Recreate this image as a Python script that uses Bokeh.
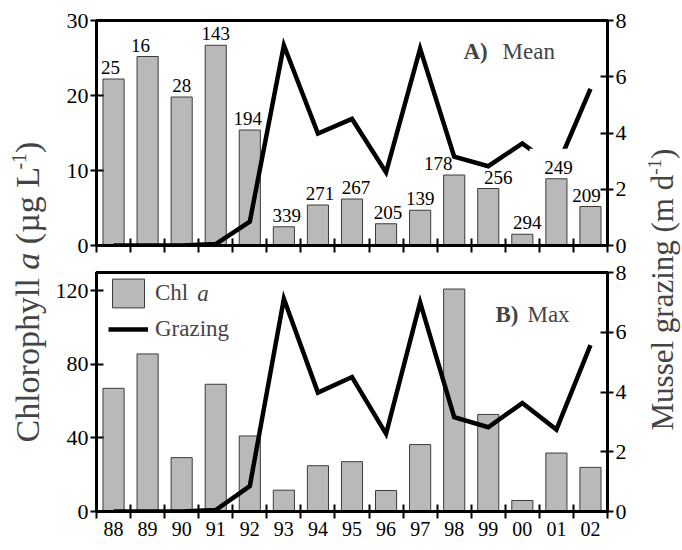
from math import pi
from bokeh.plotting import figure
from bokeh.models import (Range1d, LinearAxis, FixedTicker, ColumnDataSource, LabelSet, Label,
                          Legend, LegendItem, BoxAnnotation)
from bokeh.layouts import row, column
from bokeh.core.properties import value
from bokeh.embed import file_html
from bokeh.resources import INLINE

# ---------------- data ----------------
years = ["88", "89", "90", "91", "92", "93", "94", "95", "96", "97", "98", "99", "00", "01", "02"]
chl_mean = [22.2, 25.2, 19.8, 26.7, 15.4, 2.5, 5.4, 6.2, 2.9, 4.7, 9.4, 7.6, 1.5, 8.9, 5.2]
n_samples = [25, 16, 28, 143, 194, 339, 271, 267, 205, 139, 178, 256, 294, 249, 209]
chl_max = [67.0, 85.7, 29.3, 69.2, 41.1, 11.6, 24.9, 27.1, 11.4, 36.4, 121.0, 52.8, 6.0, 31.8, 24.0]
grazing = [0.0, 0.0, 0.0, 0.05, 0.85, 7.12, 3.98, 4.5, 2.6, 7.0, 3.16, 2.82, 3.63, 2.74, 5.57]
mean_ticks = [0, 10, 20, 30]
max_ticks = [0, 40, 80, 120]
grazing_ticks = [0, 2, 4, 6, 8]

# label nudges (px) for the sample-size labels, as placed in the original
label_dx = [-3, -7, 0, 0, -2, 3, 2, 4, 2, 0, -16, 10, 5, 2, -4]

FONT = "'Liberation Serif', 'Times New Roman', Times, 'DejaVu Serif', serif"
n = len(years)
xs = list(range(1, n + 1))
bounds = [i + 0.5 for i in range(n + 1)]

FRAME_W = 511
ML, MR = 44, 30
LW = 52
RW = 682 - LW - (ML + FRAME_W + MR)
TOP_H, BOT_H = 258, 287
TOTAL_H = TOP_H + BOT_H
BAR_FILL = "#b9b9b9"
BAR_LINE = "#3c3c3c"


def style_y(ax, standoff):
    ax.axis_line_width = 3
    ax.axis_line_color = "black"
    ax.major_tick_line_width = 2
    ax.major_tick_line_color = "black"
    ax.major_tick_in = 7
    ax.major_tick_out = 6
    ax.minor_tick_line_color = None
    ax.major_label_text_font = FONT
    ax.major_label_text_font_size = "22px"
    ax.major_label_text_color = "black"
    ax.major_label_standoff = standoff


def make_panel(values, y_end, y_ticks, height, mbt, mbb, show_labels):
    p = figure(width=ML + FRAME_W + MR, height=height,
               x_range=Range1d(0.5, n + 0.5), y_range=Range1d(0, y_end),
               output_backend="svg", toolbar_location=None,
               min_border_left=ML, min_border_right=MR,
               min_border_top=mbt, min_border_bottom=mbb)
    p.extra_y_ranges = {"g": Range1d(0, 8)}
    p.grid.visible = False
    p.outline_line_color = "black"
    p.outline_line_width = 3
    p.outline_line_alpha = 1
    p.background_fill_color = "white"
    p.border_fill_color = "white"

    src = ColumnDataSource(dict(x=xs, top=values))
    bars = p.vbar(x="x", top="top", width=0.62, source=src,
                  fill_color=BAR_FILL, line_color=BAR_LINE, line_width=1)
    line = p.line(xs, grazing, y_range_name="g", line_color="black",
                  line_width=4.5, line_join="miter")

    xa = p.xaxis[0]
    xa.ticker = FixedTicker(ticks=xs if show_labels else [], minor_ticks=bounds)
    xa.axis_line_width = 3
    xa.axis_line_color = "black"
    xa.major_tick_line_color = None
    xa.major_tick_in = 0
    xa.major_tick_out = 0
    xa.minor_tick_line_color = "black"
    xa.minor_tick_line_width = 2
    xa.minor_tick_in = 7
    xa.minor_tick_out = 7
    xa.major_label_text_font = FONT
    xa.major_label_text_font_size = "20px"
    xa.major_label_text_color = "black"
    xa.major_label_standoff = 3
    if show_labels:
        xa.major_label_overrides = {x: y for x, y in zip(xs, years)}

    ya = p.yaxis[0]
    ya.ticker = FixedTicker(ticks=y_ticks)
    style_y(ya, 2)

    ra = LinearAxis(y_range_name="g", ticker=FixedTicker(ticks=grazing_ticks))
    style_y(ra, 2)
    p.add_layout(ra, "right")
    return p, bars, line


# ---------------- panel A (mean) ----------------
top, bars_a, line_a = make_panel(chl_mean, 30, mean_ticks, TOP_H, 20, 13, False)

i01 = years.index("01")
mask = BoxAnnotation(left=xs[i01] - 0.79, right=xs[i01] + 0.6,
                     bottom=chl_mean[i01] + 0.4, top=chl_mean[i01] + 4.0,
                     fill_color="white", fill_alpha=1.0, line_color=None)
top.add_layout(mask)

lab_src = ColumnDataSource(dict(x=xs, y=chl_mean, text=[str(v) for v in n_samples], dx=label_dx))
labels = LabelSet(x="x", y="y", text="text", x_offset="dx", y_offset=5, source=lab_src,
                  text_align="center", text_baseline="alphabetic",
                  text_font=value(FONT), text_font_size=value("19px"), text_color="black")
top.add_layout(labels)

top.add_layout(Label(x=11.27, y=25.9, text="A)", text_font=FONT, text_font_size="23px",
                     text_font_style="bold", text_baseline="middle", text_align="left"))
top.add_layout(Label(x=12.42, y=25.9, text="Mean", text_font=FONT, text_font_size="23px",
                     text_baseline="middle", text_align="left"))

# ---------------- panel B (max) ----------------
bottom, bars_b, line_b = make_panel(chl_max, 130, max_ticks, BOT_H, 14, 34, True)

legend = Legend(items=[LegendItem(label="Chl", renderers=[bars_b]),
                       LegendItem(label="Grazing", renderers=[line_b])],
                location=(12, 164), glyph_width=40, glyph_height=36,
                label_text_font=FONT, label_text_font_size="23px", label_standoff=7,
                padding=0, spacing=0, margin=0,
                border_line_color=None, background_fill_alpha=0)
bottom.add_layout(legend)
# italic "a" completing the "Chl a" legend entry
bottom.add_layout(Label(x=3.46, y=118.6, text="a", text_font=FONT, text_font_size="23px",
                        text_font_style="italic", text_baseline="middle", text_align="left"))

bottom.add_layout(Label(x=12.21, y=107, text="B)", text_font=FONT, text_font_size="23px",
                        text_font_style="bold", text_baseline="middle", text_align="left"))
bottom.add_layout(Label(x=13.15, y=107, text="Max", text_font=FONT, text_font_size="23px",
                        text_baseline="middle", text_align="left"))


# ---------------- rotated axis titles ----------------
def title_fig(width, pieces):
    f = figure(width=width, height=TOTAL_H, x_range=Range1d(0, width), y_range=Range1d(0, TOTAL_H),
               output_backend="svg", toolbar_location=None, min_border=0,
               outline_line_color=None)
    f.axis.visible = False
    f.grid.visible = False
    f.background_fill_color = "white"
    f.border_fill_color = "white"
    for txt, x, y, size, style in pieces:
        f.add_layout(Label(x=x, y=y, text=txt, angle=pi / 2, text_align="left",
                           text_baseline="alphabetic", text_font=FONT,
                           text_font_size=f"{size}px", text_font_style=style))
    return f


SHIFT = 0.3  # observed anchor shift of rotated text, in em


# left title: Chlorophyll a (µg L-1)   (Times metrics, em units)
F = 34
FS = round(0.6 * F)
y0 = TOTAL_H - 442
Bl = 37
yl2 = y0 + 5.084 * F
yl3 = yl2 + 0.75 * F
yl4 = yl3 + 2.194 * F
yl5 = yl4 + 0.833 * FS
left_fig = title_fig(LW, [
    ("Chlorophyll", Bl - SHIFT * F, y0, F, "normal"),
    ("a", Bl - SHIFT * F, yl2, F, "italic"),
    ("(µg L", Bl - SHIFT * F, yl3, F, "normal"),
    ("-1", Bl - 0.38 * F - SHIFT * FS, yl4, FS, "normal"),
    (")", Bl - SHIFT * F, yl5, F, "normal"),
])

# right title: Mussel grazing (m d-1)
G = 31
GS = round(0.6 * G)
r0 = TOTAL_H - 430
Br = RW - 11
yr2 = r0 + 8.249 * G
yr3 = yr2 + 0.833 * GS
right_fig = title_fig(RW, [
    ("Mussel grazing (m d", Br - SHIFT * G, r0, G, "normal"),
    ("-1", Br - 0.38 * G - SHIFT * GS, yr2, GS, "normal"),
    (")", Br - SHIFT * G, yr3, G, "normal"),
])

layout = row(left_fig, column(top, bottom), right_fig)
open("out.html", "w").write(file_html(layout, INLINE))
